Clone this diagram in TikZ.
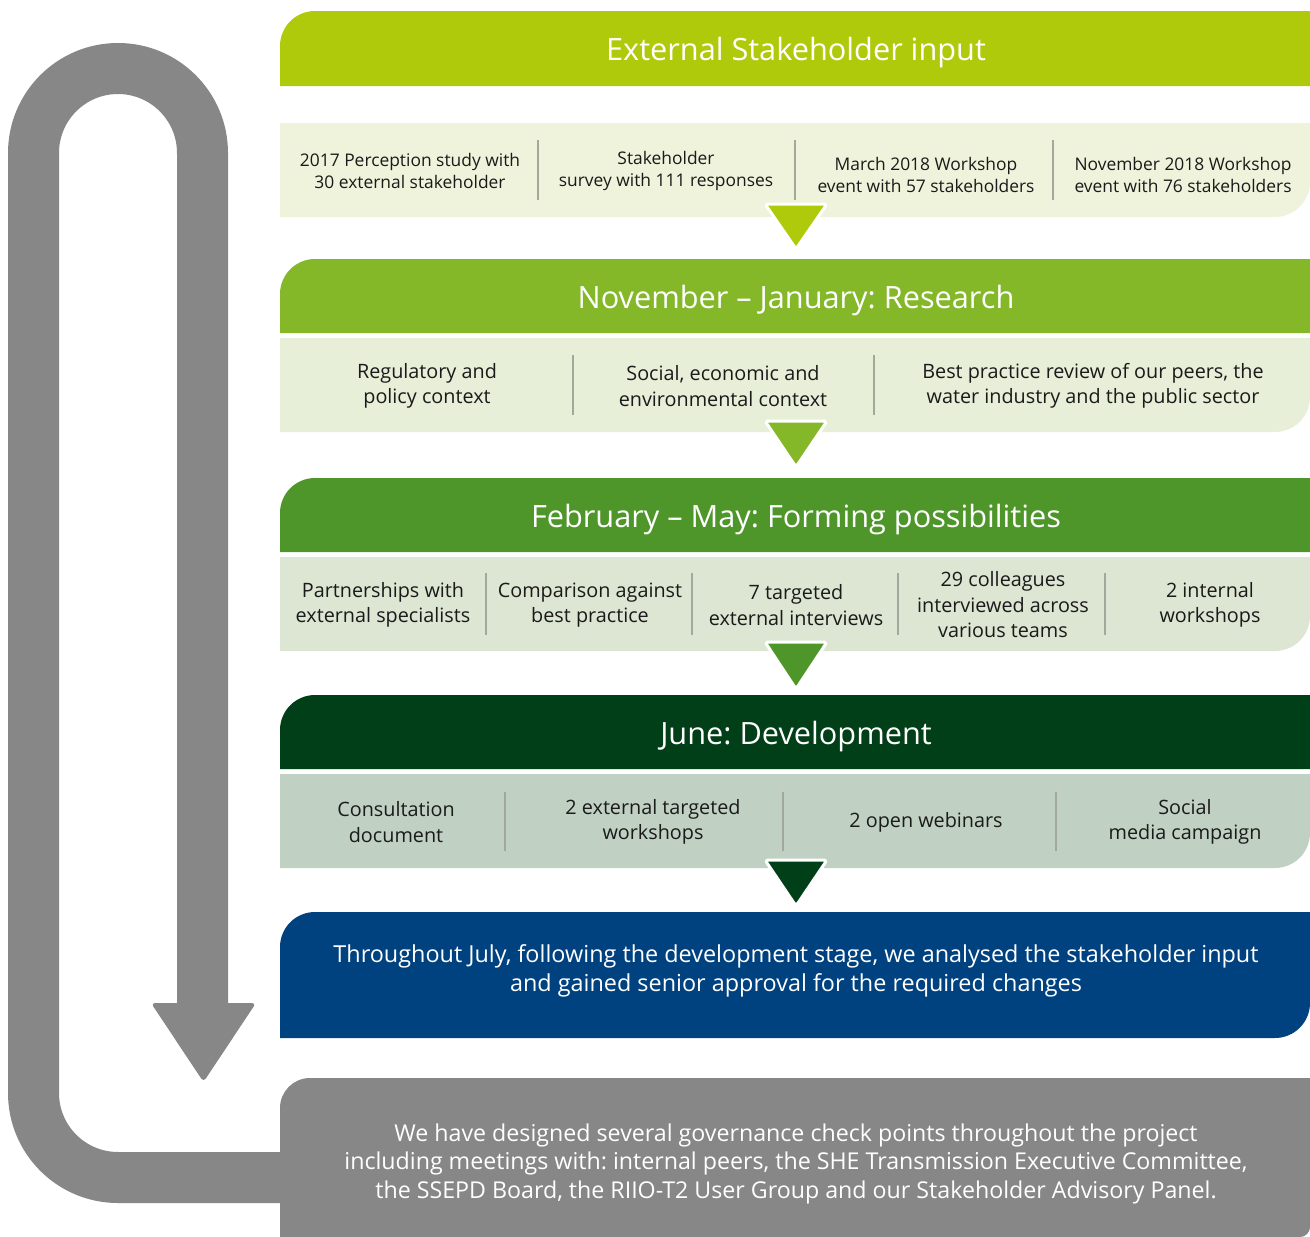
\documentclass[tikz,border=0pt]{standalone}
\usepackage{fontspec}
\setmainfont{Open Sans}
\frenchspacing
\definecolor{hA}{HTML}{AFCA0B}
\definecolor{cA}{HTML}{EFF3DC}
\definecolor{hB}{HTML}{84B829}
\definecolor{cB}{HTML}{E7EFD8}
\definecolor{hC}{HTML}{4F962A}
\definecolor{cC}{HTML}{DCE6D3}
\definecolor{hD}{HTML}{003F17}
\definecolor{cD}{HTML}{C0D1C3}
\definecolor{bluebox}{HTML}{00427F}
\definecolor{greybox}{HTML}{878787}
\definecolor{sepcol}{HTML}{A3A89C}
\definecolor{txt}{HTML}{1A1A1A}
\tikzset{
  headtext/.style={text=white, inner sep=0pt, anchor=base, font=\fontsize{30.7}{36}\selectfont},
  itemtext/.style={text=txt, inner sep=0pt, align=center, font=\fontsize{19.8}{25.5}\selectfont},
  smalltext/.style={text=txt, inner sep=0pt, align=center, font=\fontsize{17.4}{22}\selectfont},
  boxtext/.style={text=white, inner sep=0pt, align=center, font=\fontsize{23.4}{29}\selectfont},
  sepline/.style={draw=sepcol, line width=2.5pt},
  tri/.style={draw=white, line width=3pt, rounded corners=3pt, line join=round},
}
\begin{document}
\begin{tikzpicture}[x=1pt,y=1pt]
\useasboundingbox (0,0) rectangle (1310,-1237);

% grey loop arrow
\coordinate (loopstart) at (280,-1177.5);
\coordinate (loopend) at (202.5,-1003);
\draw[greybox, line width=51pt, rounded corners=84.5pt] (loopstart) -| (33.5,-68.5) -| (loopend);
\fill[greybox, rounded corners=4pt] (151,-1003) -- (256,-1003) -- (203.5,-1082) -- cycle;

% ---------- stage 1
\fill[hA] (280,-86) -- (280,-46) arc[start angle=180,end angle=90,radius=35] -- (1310,-11) -- (1310,-86) -- cycle;
\node[headtext] (h1) at (796,-60) {External Stakeholder input};
\fill[cA] (280,-123) -- (1310,-123) -- (1310,-182) arc[start angle=0,end angle=-90,radius=35] -- (280,-217) -- cycle;
\draw[sepline] (538,-140) -- (538,-200);
\draw[sepline] (795,-140) -- (795,-200);
\draw[sepline] (1053,-140) -- (1053,-200);
\node[smalltext] (a1) at (410,-171) {2017 Perception study with\\30 external stakeholder};
\node[smalltext] (a2) at (666,-171) {Stakeholder\\survey with 111 responses};
\node[smalltext] (a3) at (926,-175) {March 2018 Workshop\\event with 57 stakeholders};
\node[smalltext] (a4) at (1183,-175) {November 2018 Workshop\\event with 76 stakeholders};
\filldraw[tri, fill=hA] (765,-204) -- (827,-204) -- (796,-249) -- cycle;

% ---------- stage 2
\fill[hB] (280,-333) -- (280,-294) arc[start angle=180,end angle=90,radius=35] -- (1310,-259) -- (1310,-333) -- cycle;
\node[headtext] (h2) at (796,-308) {November -- January: Research};
\fill[cB] (280,-338) -- (1310,-338) -- (1310,-397) arc[start angle=0,end angle=-90,radius=35] -- (280,-432) -- cycle;
\draw[sepline] (573,-355) -- (573,-415);
\draw[sepline] (874,-355) -- (874,-415);
\node[itemtext] (b1) at (427,-386) {Regulatory and\\policy context};
\node[itemtext] (b2) at (723,-386) {Social, economic and\\environmental context};
\node[itemtext] (b3) at (1093,-386) {Best practice review of our peers, the\\water industry and the public sector};
\filldraw[tri, fill=hB] (765,-421) -- (827,-421) -- (796,-467) -- cycle;

% ---------- stage 3
\fill[hC] (280,-552) -- (280,-513) arc[start angle=180,end angle=90,radius=35] -- (1310,-478) -- (1310,-552) -- cycle;
\node[headtext] (h3) at (796,-527) {February -- May: Forming possibilities};
\fill[cC] (280,-557) -- (1310,-557) -- (1310,-616) arc[start angle=0,end angle=-90,radius=35] -- (280,-651) -- cycle;
\draw[sepline] (486,-573) -- (486,-635);
\draw[sepline] (692,-573) -- (692,-635);
\draw[sepline] (898,-573) -- (898,-635);
\draw[sepline] (1105,-573) -- (1105,-635);
\node[itemtext] (c1) at (383,-605) {Partnerships with\\external specialists};
\node[itemtext] (c2) at (590,-605) {Comparison against\\best practice};
\node[itemtext] (c3) at (796,-605) {7 targeted\\external interviews};
\node[itemtext] (c4) at (1003,-605) {29 colleagues\\interviewed across\\various teams};
\node[itemtext] (c5) at (1210,-605) {2 internal\\workshops};
\filldraw[tri, fill=hC] (765,-642) -- (827,-642) -- (796,-689) -- cycle;

% ---------- stage 4
\fill[hD] (280,-769) -- (280,-730) arc[start angle=180,end angle=90,radius=35] -- (1310,-695) -- (1310,-769) -- cycle;
\node[headtext] (h4) at (796,-744) {June: Development};
\fill[cD] (280,-774) -- (1310,-774) -- (1310,-833) arc[start angle=0,end angle=-90,radius=35] -- (280,-868) -- cycle;
\draw[sepline] (505,-792) -- (505,-851);
\draw[sepline] (783,-792) -- (783,-851);
\draw[sepline] (1056,-792) -- (1056,-851);
\node[itemtext] (d1) at (396,-822) {Consultation\\document};
\node[itemtext] (d2) at (653,-822) {2 external targeted\\workshops};
\node[itemtext] (d3) at (926,-822) {2 open webinars};
\node[itemtext] (d4) at (1185,-822) {Social\\media campaign};
\filldraw[tri, fill=hD] (765,-860) -- (827,-860) -- (796,-906) -- cycle;

% ---------- analysis box
\fill[bluebox] (280,-1038) -- (280,-947) arc[start angle=180,end angle=90,radius=35] -- (1310,-912) -- (1310,-1003) arc[start angle=0,end angle=-90,radius=35] -- cycle;
\node[boxtext] (e1) at (796,-971) {Throughout July, following the development stage, we analysed the stakeholder input\\and gained senior approval for the required changes};

% ---------- governance box
\fill[greybox] (280,-1237) -- (280,-1108) arc[start angle=180,end angle=90,radius=30] -- (1310,-1078) -- (1310,-1227) arc[start angle=0,end angle=-90,radius=10] -- cycle;
\node[boxtext, font=\fontsize{23.2}{28.5}\selectfont] (f1) at (796,-1163.5) {We have designed several governance check points throughout the project\\including meetings with: internal peers, the SHE Transmission Executive Committee,\\the SSEPD Board, the RIIO-T2 User Group and our Stakeholder Advisory Panel.};
\end{tikzpicture}
\end{document}
